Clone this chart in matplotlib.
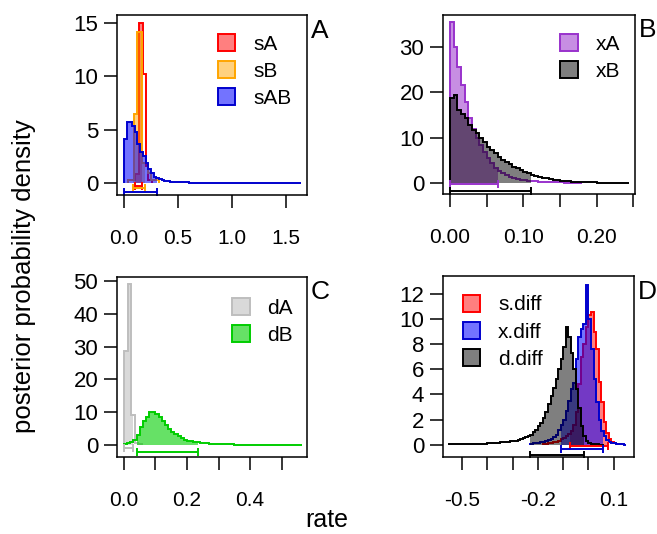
import numpy as np
import matplotlib
matplotlib.use('Agg')
import matplotlib.pyplot as plt
from matplotlib.patches import Patch
from matplotlib.colors import to_rgba

plt.rcParams['font.family'] = ['Liberation Sans', 'DejaVu Sans']

# ---- panel A : speciation rates (variable bin edges) ----
sA_edges = [0.04, 0.10, 0.135, 0.175, 0.20, 0.22, 0.26]
sA_dens = [0.25, 0.8, 15.0, 10.2, 1.6, 0.3]
sB_edges = [0.04, 0.09, 0.125, 0.17, 0.22, 0.25, 0.32]
sB_dens = [0.3, 6.5, 14.2, 1.85, 0.9, 0.3]
sAB_edges = [0.0, 0.025, 0.05, 0.075, 0.1, 0.125, 0.15, 0.175, 0.2, 0.225, 0.25,
             0.275, 0.3, 0.325, 0.35, 0.375, 0.4, 0.425, 0.45, 0.475, 0.5,
             0.6, 0.8, 1.2, 1.64]
sAB_dens = [4.1, 5.75, 5.7, 5.3, 4.8, 3.7, 2.9, 2.5, 1.85, 1.3, 0.9, 0.6, 0.45,
            0.35, 0.28, 0.22, 0.17, 0.13, 0.1, 0.08, 0.05, 0.03, 0.01, 0.005]
sA_hpd = (0.10, 0.165)
sB_hpd = (0.085, 0.195)
sAB_hpd = (0.0, 0.305)

# ---- panel B : extinction rates (bins of 0.005 from 0) ----
xA_dens = [35.5, 30.0, 25.7, 21.6, 17.9, 14.3, 12.0, 10.0, 8.3, 6.8, 5.5, 4.3,
           3.3, 2.6, 2.1, 1.7, 1.4, 1.1, 0.9, 0.75, 0.6, 0.5, 0.42, 0.35, 0.3,
           0.25, 0.2, 0.17, 0.14, 0.12, 0.1, 0.08, 0.07, 0.06, 0.05, 0.04]
xB_dens = [18.7, 19.4, 16.1, 15.2, 14.3, 12.8, 11.7, 11.0, 9.9, 9.1, 8.0, 7.3,
           6.6, 5.8, 5.1, 4.7, 4.2, 3.6, 3.2, 2.9, 2.5, 2.1, 1.8, 1.5, 1.3, 1.1,
           1.0, 0.85, 0.7, 0.6, 0.5, 0.45, 0.4, 0.3, 0.25, 0.2, 0.17, 0.14,
           0.12, 0.1, 0.08, 0.07, 0.06, 0.05, 0.04, 0.04, 0.03, 0.03, 0.02]
x_start, x_width = 0.0, 0.005
xA_hpd = (0.0, 0.065)
xB_hpd = (0.0, 0.11)

# ---- panel C : dispersal rates ----
dA_edges = [0.0, 0.0115, 0.023, 0.0345, 0.046, 0.0575]
dA_dens = [28.6, 49.0, 9.1, 0.6, 0.2]
dB_edges = [0.0, 0.01, 0.02, 0.03, 0.04, 0.05, 0.06, 0.07, 0.08, 0.09, 0.10,
            0.11, 0.12, 0.13, 0.14, 0.15, 0.16, 0.17, 0.18, 0.19, 0.20, 0.21,
            0.22, 0.23, 0.24, 0.25, 0.26, 0.27, 0.28, 0.29, 0.30, 0.31, 0.35,
            0.45, 0.565]
dB_dens = [0.3, 0.5, 1.0, 1.5, 3.0, 5.6, 7.3, 8.6, 10.0, 10.2, 9.4, 8.4, 7.2,
           6.0, 5.0, 4.1, 3.3, 2.6, 2.0, 1.6, 1.3, 1.1, 1.0, 0.85, 0.7, 0.6,
           0.5, 0.45, 0.4, 0.35, 0.3, 0.2, 0.1, 0.05]
dA_hpd = (0.0, 0.03)
dB_hpd = (0.04, 0.235)

# ---- panel D : differences (bins of 0.01) ----
sdiff_start = -0.18
sdiff_dens = [0.05, 0.07, 0.1, 0.13, 0.18, 0.25, 0.32, 0.42, 0.55, 0.7, 0.85,
              1.1, 1.6, 2.6, 4.8, 7.0, 8.0, 9.4, 10.3, 10.6, 9.0, 7.6, 5.0,
              3.4, 1.8, 0.9, 0.45, 0.22, 0.1, 0.05, 0.02]
xdiff_start = -0.23
xdiff_dens = [0.08, 0.1, 0.12, 0.15, 0.2, 0.25, 0.3, 0.35, 0.45, 0.6, 0.8, 1.2,
              1.6, 2.0, 2.7, 3.5, 4.4, 4.9, 6.8, 8.6, 9.2, 9.6, 12.7, 10.0, 7.6,
              5.2, 3.4, 2.0, 1.1, 0.7, 0.4, 0.25, 0.15, 0.1, 0.06, 0.04, 0.02,
              0.01]
ddiff_start = -0.55
ddiff_dens = [0.02, 0.02, 0.02, 0.03, 0.03, 0.03, 0.04, 0.04, 0.05, 0.05,
              0.06, 0.06, 0.07, 0.08, 0.09, 0.10, 0.11, 0.12, 0.14, 0.16, 0.18,
              0.20, 0.22, 0.25, 0.28, 0.30, 0.33, 0.38, 0.45, 0.5, 0.6, 0.7,
              0.8, 1.0, 1.2, 1.45, 1.7, 2.1, 2.6, 3.2, 3.9, 4.5, 5.2, 6.0, 6.8,
              7.8, 9.4, 8.6, 7.3, 6.0, 4.4, 2.9, 1.5, 0.7, 0.3, 0.12, 0.05,
              0.03, 0.02, 0.01, 0.01]
diff_width = 0.01
sdiff_hpd = (-0.074, 0.076)
xdiff_hpd = (-0.107, 0.057)
ddiff_hpd = (-0.232, -0.018)


def regular_edges(start, width, dens):
    return start + width * np.arange(len(dens) + 1)


def histo(ax, edges, dens, hpd, ybar, line, fill, alpha):
    edges = np.asarray(edges, float)
    dens = np.asarray(dens, float)
    lo, hi = hpd
    # shaded part only inside the credible interval
    e = np.concatenate([[lo], edges[(edges > lo) & (edges < hi)], [hi]])
    idx = np.clip(np.searchsorted(edges, e[:-1], side='right') - 1, 0, len(dens) - 1)
    ax.stairs(dens[idx], e, fill=True, color=to_rgba(fill, alpha), lw=0)
    ax.stairs(dens, edges, baseline=0, color=line, lw=1.4)
    ax.plot([lo, hi], [ybar, ybar], color=line, lw=1.4, marker='|', ms=6, mew=1.4,
            solid_capstyle='butt')
    return Patch(facecolor=to_rgba(fill, alpha), edgecolor=line, lw=1.4)


def legende(ax, handles, labels, x, y):
    ax.legend(handles, labels, loc='upper left', bbox_to_anchor=(x, y),
              frameon=False, fontsize=15, handlelength=0.85, handleheight=0.85,
              handletextpad=0.85, labelspacing=0.36, borderpad=0, borderaxespad=0)


fig = plt.figure(figsize=(6.57, 5.34), dpi=100)
axA = fig.add_axes([0.178, 0.6348, 0.2892, 0.3371])
axB = fig.add_axes([0.6743, 0.6367, 0.2922, 0.3352])
axC = fig.add_axes([0.178, 0.1442, 0.2892, 0.3371])
axD = fig.add_axes([0.6743, 0.1442, 0.2907, 0.3390])

# A
h1 = histo(axA, sA_edges, sA_dens, sA_hpd, -0.3, 'red', 'red', 0.5)
h2 = histo(axA, sB_edges, sB_dens, sB_hpd, -0.5, 'orange', 'orange', 0.5)
h3 = histo(axA, sAB_edges, sAB_dens, sAB_hpd, -0.8, '#0000CD', 'blue', 0.55)
axA.set_xlim(-0.065, 1.694)
axA.set_ylim(-1.125, 15.75)
axA.set_xticks([0, 0.5, 1.0, 1.5], ['0.0', '0.5', '1.0', '1.5'])
axA.set_yticks([0, 5, 10, 15])
legende(axA, [h1, h2, h3], ['sA', 'sB', 'sAB'], 0.53, 0.894)

# B
h1 = histo(axB, regular_edges(x_start, x_width, xA_dens), xA_dens, xA_hpd, -0.22,
           'darkorchid', 'darkorchid', 0.55)
h2 = histo(axB, regular_edges(x_start, x_width, xB_dens), xB_dens, xB_hpd, -1.8,
           'black', 'black', 0.5)
axB.set_xlim(-0.0096, 0.2525)
axB.set_ylim(-2.45, 37.1)
axB.set_xticks([0, 0.05, 0.10, 0.15, 0.20, 0.25], ['0.00', '', '0.10', '', '0.20', ''])
axB.set_yticks([0, 10, 20, 30])
legende(axB, [h1, h2], ['xA', 'xB'], 0.61, 0.892)

# C
h1 = histo(axC, dA_edges, dA_dens, dA_hpd, -0.9, '#BEBEBE', '#D3D3D3', 0.85)
h2 = histo(axC, dB_edges, dB_dens, dB_hpd, -2.0, '#00CD00', '#00CD00', 0.6)
axC.set_xlim(-0.022, 0.58)
axC.set_ylim(-3.66, 51.2)
axC.set_xticks([0, 0.1, 0.2, 0.3, 0.4, 0.5], ['0.0', '', '0.2', '', '0.4', ''])
axC.set_yticks([0, 10, 20, 30, 40, 50])
legende(axC, [h1, h2], ['dA', 'dB'], 0.605, 0.883)

# D
h1 = histo(axD, regular_edges(sdiff_start, diff_width, sdiff_dens), sdiff_dens,
           sdiff_hpd, -0.1, 'red', 'red', 0.5)
h2 = histo(axD, regular_edges(xdiff_start, diff_width, xdiff_dens), xdiff_dens,
           xdiff_hpd, -0.37, '#0000CD', 'blue', 0.55)
h3 = histo(axD, regular_edges(ddiff_start, diff_width, ddiff_dens), ddiff_dens,
           ddiff_hpd, -0.8, 'black', 'black', 0.5)
axD.set_xlim(-0.575, 0.180)
axD.set_ylim(-0.98, 13.43)
axD.set_xticks([-0.5, -0.4, -0.3, -0.2, -0.1, 0.0, 0.1],
               ['-0.5', '', '', '-0.2', '', '', '0.1'])
axD.set_yticks([0, 2, 4, 6, 8, 10, 12])
legende(axD, [h1, h2, h3], ['s.diff', 'x.diff', 'd.diff'], 0.103, 0.895)

for ax, letter in zip([axA, axB, axC, axD], 'ABCD'):
    for s in ax.spines.values():
        s.set_linewidth(1.1)
    ax.tick_params(direction='out', length=9.5, width=1.1)
    ax.tick_params(axis='x', pad=15, labelsize=15)
    ax.tick_params(axis='y', pad=4, labelsize=16)
    ax.text(1.02, 0.875, letter, transform=ax.transAxes, fontsize=19,
            ha='left', va='baseline', clip_on=False)

fig.text(24 / 657, 1 - 276 / 534, 'posterior probability density', rotation=90,
         ha='center', va='center', fontsize=18.5)
fig.text(327 / 657, 1 - 520 / 534, 'rate', ha='center', va='center', fontsize=18)

fig.savefig('out.png', dpi=100)
